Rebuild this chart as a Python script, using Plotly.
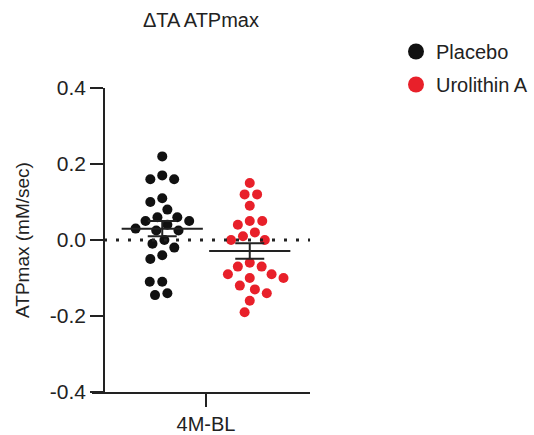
import numpy as np
import plotly.graph_objects as go

# ---------------- data ----------------
chart_title = "ΔTA ATPmax"
y_title = "ATPmax (mM/sec)"
category = "4M-BL"
group_names = ["Placebo", "Urolithin A"]
placebo = [0.22, 0.17, 0.16, 0.16, 0.11, 0.10, 0.08, 0.06, 0.06, 0.05, 0.05, 0.04,
           0.03, 0.025, 0.025, 0.0, -0.01, -0.02, -0.04, -0.05, -0.11, -0.11, -0.14, -0.145]
urolithin = [0.15, 0.12, 0.12, 0.09, 0.05, 0.05, 0.04, 0.02, 0.01, 0.0, 0.0, -0.06,
             -0.07, -0.07, -0.09, -0.09, -0.10, -0.10, -0.12, -0.13, -0.14, -0.16, -0.19]
y_ticks = [-0.4, -0.2, 0.0, 0.2, 0.4]
y_tick_labels = ["-0.4", "-0.2", "0.0", "0.2", "0.4"]

# ---------------- style / layout ----------------
colors = ["#111111", "#e8202a"]
W, H = 534, 435
ML, MR, MT, MB = 92, 224, 88, 43
plot_w = W - ML - MR
plot_h = H - MT - MB
y_range = [-0.4, 0.4]
x_range = [-114 / 43.75, 104 / 43.75]
group_centers = [-1.0, 1.0]
px_per_x = plot_w / (x_range[1] - x_range[0])
px_per_y = plot_h / (y_range[1] - y_range[0])
font_family = "Arial, Liberation Sans, sans-serif"
ink = "#222222"


def swarm(values, dist):
    """Beeswarm offsets (in px) so markers do not collide."""
    order = sorted(range(len(values)), key=lambda i: -values[i])
    placed = []
    offs = [0.0] * len(values)
    flip = 1
    for i in order:
        y = values[i] * px_per_y
        cands = [0.0]
        for xj, yj in placed:
            dy = abs(y - yj)
            if dy < dist:
                dx = np.sqrt(dist ** 2 - dy ** 2)
                cands += [xj - dx, xj + dx]
        cands.sort(key=lambda c: (round(abs(c), 6), flip * c))
        chosen = cands[-1]
        for c in cands:
            if all((c - xj) ** 2 + (y - yj) ** 2 >= dist ** 2 - 1e-6 for xj, yj in placed):
                chosen = c
                break
        if chosen != 0:
            flip = -flip
        offs[i] = chosen
        placed.append((chosen, y))
    return offs


fig = go.Figure()
series = [placebo, urolithin]
for name, vals, col, cx in zip(group_names, series, colors, group_centers):
    offs = swarm(vals, 12.5)
    xs = [cx + o / px_per_x for o in offs]
    fig.add_trace(go.Scatter(
        x=xs, y=vals, mode="markers", showlegend=False,
        marker=dict(size=10, color=col, line=dict(width=0)),
    ))

for name, vals, cx in zip(group_names, series, group_centers):
    arr = np.array(vals)
    mean = arr.mean()
    sem = arr.std(ddof=1) / np.sqrt(len(arr))
    fig.add_trace(go.Scatter(
        x=[cx], y=[mean], mode="markers", showlegend=False,
        marker=dict(symbol="line-ew", size=58, color=ink, line=dict(width=2, color=ink)),
        error_y=dict(type="data", array=[sem], width=14.5, thickness=2, color=ink),
    ))

# legend-only entries
for name, col in zip(group_names, colors):
    fig.add_trace(go.Scatter(
        x=[None], y=[None], mode="markers", name=name, legendgroup=name,
        marker=dict(size=16, color=col),
    ))

# dotted zero line
fig.add_shape(type="line", xref="paper", yref="y",
              x0=12 / plot_w, x1=1, y0=0, y1=0,
              line=dict(color=ink, width=3, dash="3px,9px"))

fig.update_layout(
    width=W, height=H,
    margin=dict(l=ML, r=MR, t=MT, b=MB, autoexpand=False),
    paper_bgcolor="white", plot_bgcolor="white",
    font=dict(family=font_family, size=20, color=ink),
    title=dict(text=chart_title, x=(ML + plot_w / 2) / W, xanchor="center",
               y=1 - 20 / H, yanchor="middle", font=dict(size=20, color=ink)),
    legend=dict(xref="container", yref="container", x=396 / W, xanchor="left",
                y=1 - 32 / H, yanchor="top", font=dict(size=20, color=ink),
                tracegroupgap=4, itemsizing="trace", bgcolor="rgba(0,0,0,0)"),
    showlegend=True,
    xaxis=dict(range=x_range, showgrid=False, zeroline=False, showline=True,
               linecolor=ink, linewidth=1.5, ticks="outside", ticklen=13,
               tickwidth=1.5, tickcolor=ink, tickvals=[0], ticktext=[category],
               tickfont=dict(size=20), automargin=False, fixedrange=True),
    yaxis=dict(range=y_range, showgrid=False, zeroline=False, showline=True,
               linecolor=ink, linewidth=1.5, ticks="outside", ticklen=13,
               tickwidth=1.5, tickcolor=ink, tickvals=y_ticks, ticktext=y_tick_labels,
               tickfont=dict(size=21), automargin=False,
               anchor="free", position=12 / plot_w, fixedrange=True,
               title=dict(text=y_title, font=dict(size=19), standoff=14)),
)

fig.write_html("out.html", config={"displayModeBar": False},
               post_script="document.body.style.margin='0';")
